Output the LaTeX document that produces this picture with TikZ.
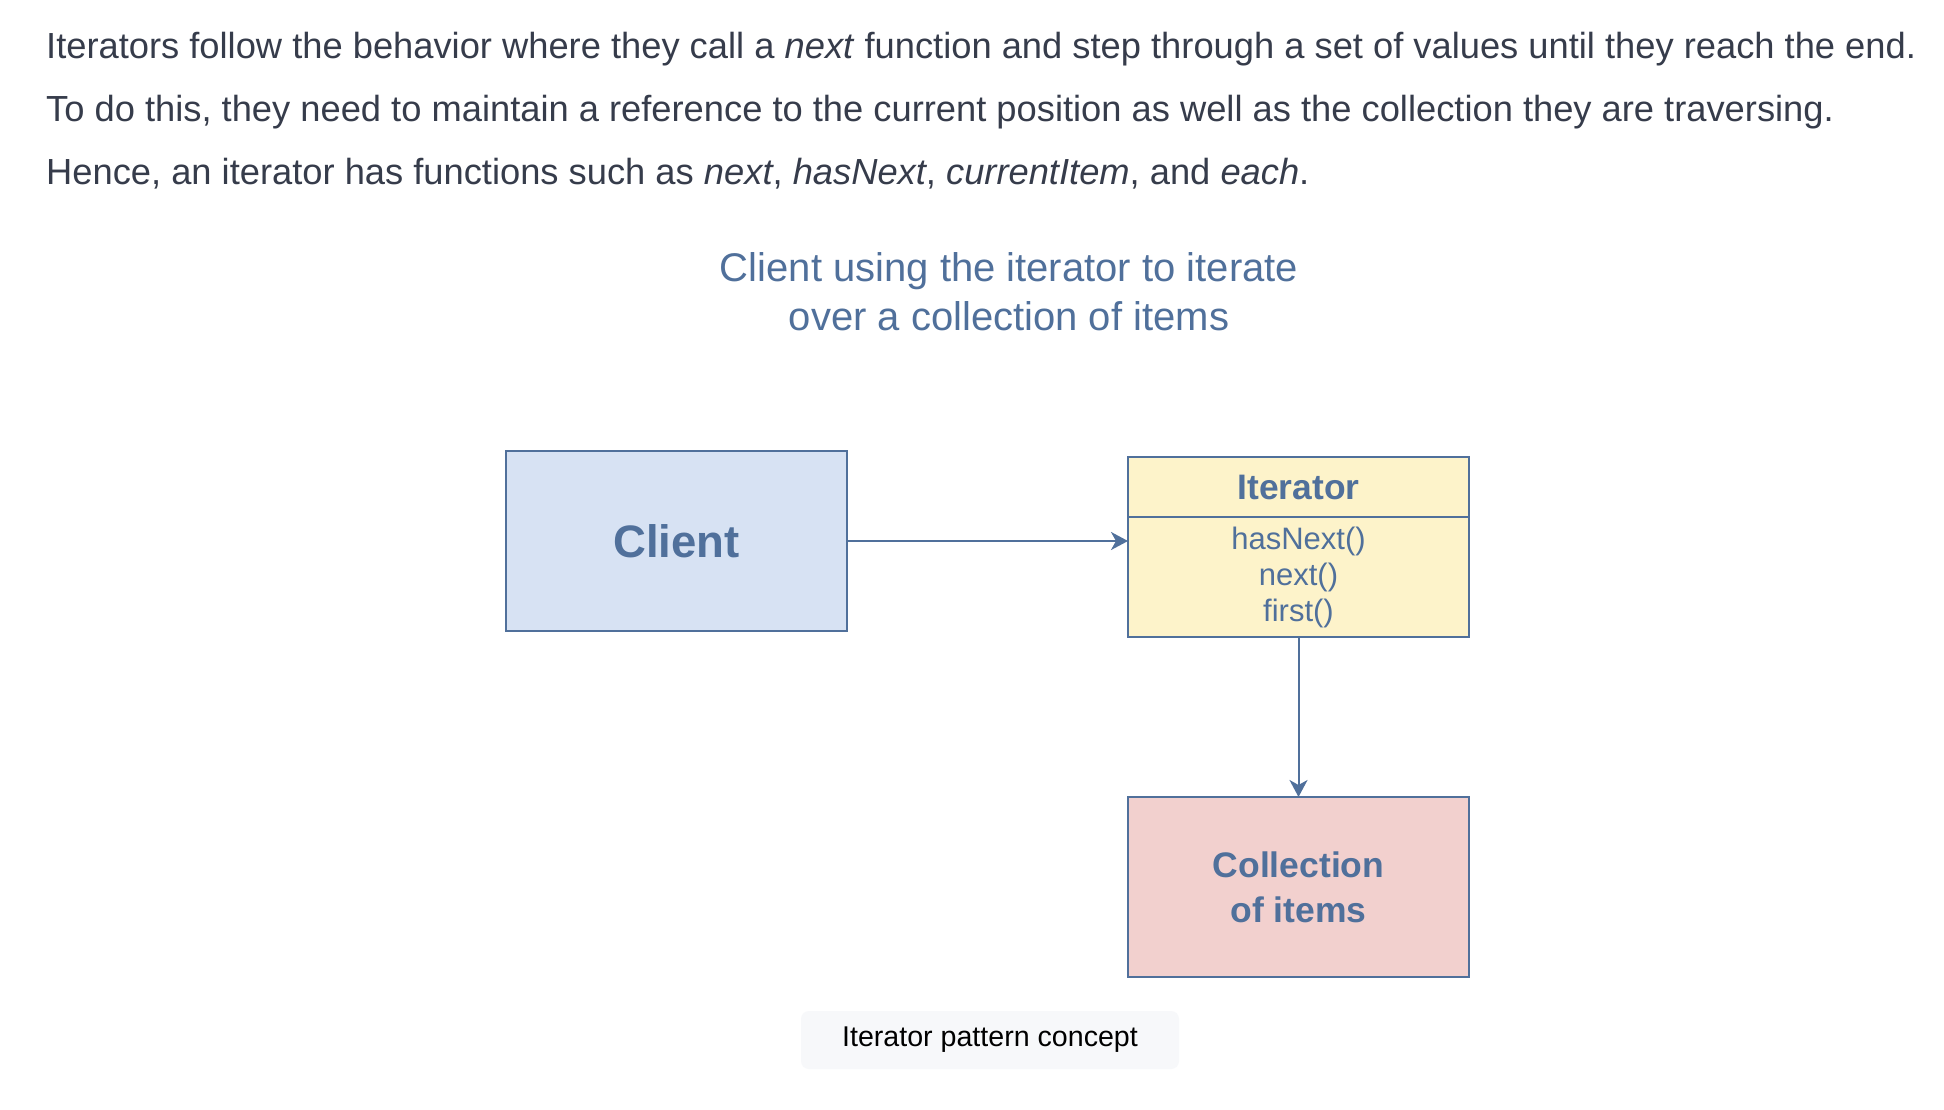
\documentclass[tikz,border=0pt]{standalone}
\usepackage{fontspec}
\setmainfont{Liberation Sans}
\usepackage{xcolor}
\usetikzlibrary{arrows.meta, positioning}
\definecolor{inkblue}{HTML}{50709B}
\definecolor{paratext}{HTML}{363C4B}
\definecolor{clientfill}{HTML}{D7E2F3}
\definecolor{iterfill}{HTML}{FDF3CA}
\definecolor{collfill}{HTML}{F2D0CE}
\definecolor{capfill}{HTML}{F7F8FA}
\tikzset{
    box/.style={rectangle, draw=inkblue, line width=2pt, outer sep=0pt, text=inkblue, align=center, minimum width=341pt},
    arrow/.style={draw=inkblue, line width=2pt, -{Stealth[length=17pt, width=18pt, inset=5pt]}},
    intro/.style={anchor=base west, inner sep=0pt, text=paratext, font=\fontsize{36.3}{44}\selectfont},
    headline/.style={anchor=base, inner sep=0pt, text=inkblue, font=\fontsize{40}{48}\selectfont},
}
\begin{document}
\begin{tikzpicture}[x=1pt, y=-1pt]

    % Background
    \path[fill=white] (0,0) rectangle (1944,1110);

    % Text
    \node[intro] (intro1) at (46,59) {Iterators follow the behavior where they call a \textit{next} function and step through a set of values until they reach the end.};
    \node[intro] (intro2) at (46,122) {To do this, they need to maintain a reference to the current position as well as the collection they are traversing.};
    \node[intro] (intro3) at (46,185) {Hence, an iterator has functions such as \textit{next}, \textit{hasNext}, \textit{currentItem}, and \textit{each}.};
    \node[headline] (title1) at (1009,281) {Client using the iterator to iterate};
    \node[headline] (title2) at (1009,330) {over a collection of items};

    % Nodes
    \node[box, fill=clientfill, minimum height=180pt, font=\fontsize{45.5}{55}\selectfont\bfseries] (client) at (676.5,541) {Client};
    \node[box, fill=iterfill, minimum height=60pt, font=\fontsize{35.4}{42}\selectfont\bfseries] (iterhead) at (1298.5,487) {Iterator};
    \node[box, fill=iterfill, minimum height=120pt, inner sep=2pt, below=0pt of iterhead, font=\fontsize{31}{36}\selectfont] (iterbody) {hasNext()\\next()\\first()};
    \node[box, fill=collfill, minimum height=180pt, below=160pt of iterbody, font=\fontsize{35.5}{45}\selectfont\bfseries] (collection) {Collection\\of items};
    \node[fill=capfill, rounded corners=8pt, minimum width=378pt, minimum height=58pt, font=\fontsize{28.6}{34}\selectfont] (caption) at (990,1040) {Iterator pattern concept};

    % Arrows
    \draw[arrow] (client.east) -- (client.east -| iterbody.west);
    \draw[arrow] (iterbody.south) -- (collection.north);

\end{tikzpicture}
\end{document}
